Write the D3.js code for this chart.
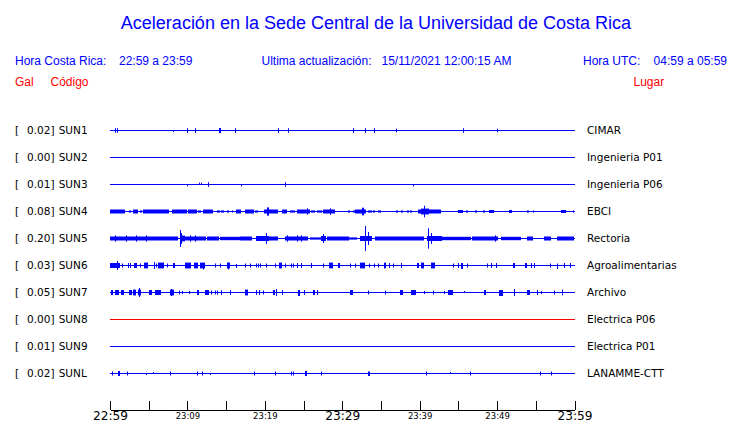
<!DOCTYPE html>
<html><head><meta charset="utf-8">
<script src="https://cdn.jsdelivr.net/npm/d3@7"></script>
<style>body{margin:0;background:#fff}svg{display:block}</style>
</head><body>
<svg id="c" width="740" height="423"></svg>
<script>
// ---------- data ----------
const title = "Aceleración en la Sede Central de la Universidad de Costa Rica";
const localLabel = "Hora Costa Rica:", localRange = "22:59 a 23:59";
const updLabel = "Ultima actualización:", updValue = "15/11/2021 12:00:15 AM";
const utcLabel = "Hora UTC:", utcRange = "04:59 a 05:59";
const codes  = ["SUN1","SUN2","SUN3","SUN4","SUN5","SUN6","SUN7","SUN8","SUN9","SUNL"];
const places = ["CIMAR","Ingenieria P01","Ingenieria P06","EBCI","Rectoria","Agroalimentarias","Archivo","Electrica P06","Electrica P01","LANAMME-CTT"];
const peaks  = [0.02,0.00,0.01,0.08,0.20,0.03,0.05,0.00,0.01,0.02];   // Gal
const online = [true,true,true,true,true,true,true,false,true,true];
const startTime = "2021-11-14T22:59:00", endTime = "2021-11-14T23:59:00";
const tickStepMin = 5, labelStepMin = 10;
const majorLabels = ["22:59","23:29","23:59"];
const minorLabels = ["23:09","23:19","23:39","23:49"];
// bursts: [minute after 22:59, duration (min), amplitude up (mGal), amplitude down (mGal, default = up)]
const sun1 = [[0.6,0,30],[0.9,0,30],[8.1,0,0,17],[10.0,0,30],[11.0,0,30],[14.1,0.2,33],[16.2,0,30],[21.7,0,30],[23.0,0,30],[31.4,0,30],[32.9,0,30],[34.1,0,30],[37.0,0,22],[45.6,0,30],[50.0,0,22]];
const sun2 = [];
const sun3 = [[10.0,0,0,22],[11.5,0,22,0],[11.8,0,22,0],[12.6,0,30],[16.9,0,0,22],[22.6,0,30],[39.1,0,0,22]];
const sun4 = [[0,1.9,25],[2.4,0.3,10],[3.0,0.7,25],[3.9,0.3,10],[4.3,3.4,25],[8.0,1.9,25],[10.1,1.1,25],[11.4,0.4,10],[12.0,1.3,25],[13.8,0.4,10],[14.4,0.4,10],[15.1,0.3,10],[15.7,0.1,10],[16.3,0.6,25],[17.4,1.2,25],[18.7,0.4,10],[19.9,1.8,25],[20.3,0.2,60],[22.2,0.6,25],[23.3,0.6,10],[24.1,1.7,25],[25.4,0.1,45],[26.0,0.5,10],[26.7,0.6,10],[27.5,1.5,25],[28.4,0.1,45],[30.8,0.2,10],[31.4,0.2,10],[31.7,1.4,25],[32.5,0.3,55],[33.3,0.5,10],[34.0,0.3,10],[34.6,0.4,10],[37.0,0.2,10],[37.6,0.2,10],[38.3,0.2,10],[38.8,0.3,10],[39.8,3.0,25],[40.2,1.0,40],[40.6,0,88],[44.9,0.6,17],[46.0,0.2,10],[47.1,0.2,10],[48.2,0.2,10],[49.0,0.6,17],[51.5,0.4,17],[53.8,0.2,10],[54.7,0.1,10],[58.2,0.7,17],[59.8,0.1,10]];
const sun5 = [[0,8.8,25],[0.6,0.1,45],[2.1,0.1,45],[3.4,0.1,45],[4.7,0.1,45],[9.0,0.6,40],[9.0,0,133],[9.2,0.1,83],[9.5,2.8,25],[10.3,0.1,45],[11.0,0.1,45],[12.5,1.5,25],[14.2,2.6,20],[16.8,1.5,25],[18.9,1.7,33],[20.1,0,83],[20.6,1.1,25],[22.6,3.0,25],[22.8,0.1,45],[24.1,0.1,45],[24.7,0.1,45],[25.8,1.5,10],[27.3,0.7,33],[27.5,0,67],[28.0,2.8,25],[30.8,1.2,10],[32.3,1.5,33],[33.0,0,200],[33.3,0,100],[34.2,2.1,25],[36.3,2.6,25],[38.9,1.7,25],[40.9,1.9,33],[41.1,0,160],[41.5,0,83],[42.8,3.9,20],[46.7,3.4,25],[49.7,0.1,45],[50.5,2.6,20],[53.8,0.8,25],[56.1,0.9,25],[57.8,2.2,25]];
const sun6 = [[0,1.3,33],[0.9,0,67],[1.5,0,25],[2.3,0.1,33],[2.6,0.1,33],[3.1,0.4,33],[3.9,0,25],[4.4,0.5,40],[5.7,0,50],[5.9,0,25],[6.2,0.8,40],[7.4,0,25],[8.2,0.3,33],[9.7,0.8,40],[10.8,0.5,40],[11.6,0.7,40],[12.0,0.1,33,58],[13.5,0,25],[14.2,0,25],[15.1,0.4,40],[15.3,0,40,58],[16.3,0,17,33],[17.4,0,25],[18.1,0,25],[18.8,0,25],[19.1,0,25],[19.4,0,25],[20.2,0,25],[21.3,0,25],[21.8,0.4,40],[22.6,0,25],[23.4,0,25],[23.7,0,25],[24.1,0.1,33],[24.7,0.1,33],[26.0,0.1,33],[27.5,0,25],[28.3,0.5,40],[29.5,0.2,33],[31.0,0,25],[31.6,0,25],[32.3,0.7,40],[33.5,0,25],[34.1,0,25],[34.6,0,25],[35.4,0.3,40],[36.1,0.1,33],[36.6,0,25],[37.6,0.1,33],[39.6,0.2,33],[40.2,0.4,40],[41.5,0.5,40],[44.3,0,25],[44.9,0.1,33],[45.4,0.2,33,50],[46.1,0,25],[48.7,0,25],[49.2,0.1,33],[49.9,0.1,33],[52.0,0.3,33],[53.6,0.3,33],[54.4,0.1,33],[54.8,0.1,33],[56.8,0,25],[57.8,0,25,50],[58.6,0.1,33],[59.4,0.1,33]];
const sun7 = [[0.1,0.3,33],[0.6,0.5,33],[1.4,0.4,33],[2.4,0.4,33],[3.0,0.4,40],[3.6,0.4,40],[3.8,0,67],[5.1,0.4,33],[5.8,0.8,33],[7.7,0.5,40],[7.9,0,50],[8.9,0,25],[9.3,0,17],[10.2,0,17],[11.2,0.2,33],[12.3,0.5,33],[13.1,0,25],[13.5,0,25],[13.8,0,25],[14.3,0.1,33],[15.5,0.1,33],[17.4,0.4,40],[18.8,0.1,33],[19.2,0.1,33],[19.8,0,25],[21.0,0.2,33],[21.4,0,50],[22.2,0.1,33],[24.3,0.2,33,50],[25.0,0,33],[26.2,0.3,33],[26.8,0.1,33],[31.0,0.4,33],[33.3,0,25],[35.5,0,25],[37.4,0.4,33],[38.9,0.7,33],[40.6,0,17],[41.7,0,25],[43.1,0,17],[43.7,0.6,33],[45.7,0,17,0],[48.3,0.2,33],[50.3,0.5,33,50],[52.2,0,50],[53.8,0.4,33],[55.2,0.1,33],[55.7,0,17],[57.4,0,25],[58.4,0.1,40]];
const sun8 = [];
const sun9 = [];
const sunl = [[0.3,0,25],[1.0,0.2,33],[2.2,0,25],[4.6,0,0,17],[5.5,0,17,0],[7.7,0,25],[11.2,0,25],[11.9,0,25],[12.9,0,0,17],[18.6,0,25],[21.3,0,25],[23.4,0,25],[23.7,0,25],[25.2,0.2,33],[27.3,0,25],[33.3,0.2,25,33],[40.8,0,25],[43.9,0,17,0],[46.5,0,25],[55.6,0,25],[56.9,0,25]];
const bursts = [sun1,sun2,sun3,sun4,sun5,sun6,sun7,sun8,sun9,sunl];

// ---------- drawing ----------
const svg = d3.select("#c");
const BLUE = "#0000ff", RED = "#ff0000";
const SANS = "'Liberation Sans', Arial, Helvetica, sans-serif";
const DJV = "'DejaVu Sans', sans-serif";

const t0 = new Date(startTime), t1 = new Date(endTime);
const x = d3.scaleTime().domain([t0, t1]).range([110, 574.5]);
const addMin = m => new Date(t0.getTime() + m * 60000);
const xm = m => x(addMin(m));
const y = d3.scalePoint().domain(codes).range([130, 373]);
const amp = d3.scaleLinear().domain([0, 200]).range([0, 12]);

svg.append("text").attr("x", 376).attr("y", 29).attr("text-anchor", "middle")
  .attr("font-family", SANS).attr("font-size", 18).attr("fill", BLUE).text(title);

const hdr = svg.append("g").attr("font-family", SANS).attr("font-size", 12).attr("fill", BLUE);
hdr.append("text").attr("x", 15).attr("y", 65).text(localLabel);
hdr.append("text").attr("x", 119).attr("y", 65).text(localRange);
hdr.append("text").attr("x", 261.5).attr("y", 65).text(updLabel);
hdr.append("text").attr("x", 381.5).attr("y", 65).text(updValue);
hdr.append("text").attr("x", 583).attr("y", 65).text(utcLabel);
hdr.append("text").attr("x", 727).attr("y", 65).attr("text-anchor", "end").text(utcRange);

const red = svg.append("g").attr("font-family", SANS).attr("font-size", 12).attr("fill", RED);
red.append("text").attr("x", 15).attr("y", 86).text("Gal");
red.append("text").attr("x", 50.5).attr("y", 86).text("Código");
red.append("text").attr("x", 633.5).attr("y", 86).text("Lugar");

const rows = svg.selectAll("g.row").data(codes).join("g").attr("class", "row")
  .attr("transform", d => `translate(0,${Math.round(y(d))})`);

rows.append("text").attr("x", 15).attr("y", 4).attr("font-family", DJV).attr("font-size", 10.5).text("[");
rows.append("text").attr("x", 54.5).attr("y", 4).attr("text-anchor", "end").attr("font-family", DJV).attr("font-size", 10.5)
  .text((d, i) => d3.format(".2f")(peaks[i]) + "]");
rows.append("text").attr("x", 58.7).attr("y", 4).attr("font-family", DJV).attr("font-size", 10.5).text(d => d);
rows.append("text").attr("x", 587).attr("y", 4).attr("font-family", DJV).attr("font-size", 10.5).text((d, i) => places[i]);

rows.append("line").attr("x1", xm(0)).attr("x2", xm(60)).attr("y1", 0.5).attr("y2", 0.5)
  .attr("stroke", (d, i) => online[i] ? BLUE : RED).attr("stroke-width", 1).attr("shape-rendering", "crispEdges");

rows.each(function (d, i) {
  d3.select(this).selectAll("rect").data(bursts[i]).join("rect")
    .attr("x", b => Math.round(xm(b[0])))
    .attr("width", b => Math.max(1, Math.round(xm(b[0] + b[1]) - xm(b[0]))))
    .attr("y", b => -amp(b[2]))
    .attr("height", b => amp(b[2]) + 1 + amp(b.length > 3 ? b[3] : b[2]))
    .attr("fill", online[i] ? BLUE : RED);
});

// axis
const ticks = d3.range(0, 60 + tickStepMin / 2, tickStepMin).map(addMin);
const fmt = d3.timeFormat("%H:%M");
const axis = d3.axisBottom(x).tickValues(ticks).tickSizeInner(-9).tickSizeOuter(0).tickPadding(4)
  .tickFormat(d => { const s = fmt(d); return (majorLabels.includes(s) || minorLabels.includes(s)) ? s : ""; });
const ax = svg.append("g").attr("transform", "translate(0,409.5)").call(axis);
ax.select(".domain").attr("stroke", "#000").attr("shape-rendering", "crispEdges");
ax.selectAll(".tick line").attr("stroke", "#000").attr("shape-rendering", "crispEdges");
ax.selectAll(".tick text").attr("fill", "#000").attr("font-family", DJV)
  .attr("font-size", d => majorLabels.includes(fmt(d)) ? 12.2 : 8.5)
  .attr("dy", null)
  .attr("y", d => majorLabels.includes(fmt(d)) ? 10.5 : 9);
</script>
</body></html>
